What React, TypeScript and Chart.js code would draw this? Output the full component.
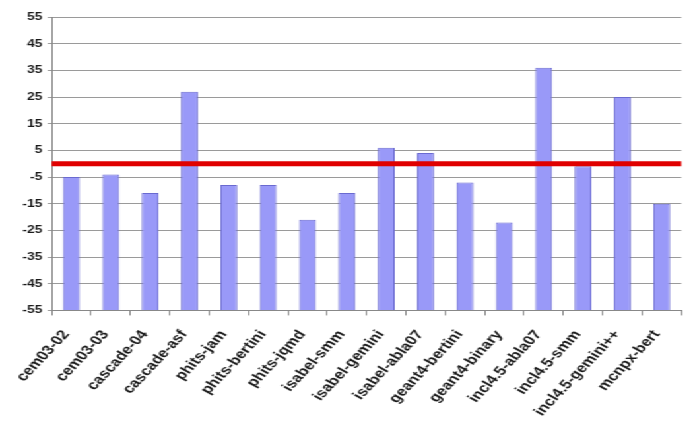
import React, { useEffect, useRef } from "react";
import { Chart, registerables } from "chart.js";

Chart.register(...registerables);

const categories = [
  "cem03-02",
  "cem03-03",
  "cascade-04",
  "cascade-asf",
  "phits-jam",
  "phits-bertini",
  "phits-jqmd",
  "isabel-smm",
  "isabel-gemini",
  "isabel-abla07",
  "geant4-bertini",
  "geant4-binary",
  "incl4.5-abla07",
  "incl4.5-smm",
  "incl4.5-gemini++",
  "mcnpx-bert",
];

const values = [-5, -4, -11, 27, -8, -8, -21, -11, 6, 4, -7, -22, 36, -1, 25, -15];

const Y_MIN = -55;
const Y_MAX = 55;
const Y_STEP = 10;
const REFERENCE_VALUE = 0;

const STRETCH = 1.32;
const W = 694;
const H = 429;

const refLinePlugin = {
  id: "refLine",
  afterDatasetsDraw(chart: any) {
    const { ctx, chartArea, scales } = chart;
    const y = scales.y.getPixelForValue(REFERENCE_VALUE);
    ctx.save();
    ctx.strokeStyle = "#e00000";
    ctx.lineWidth = 5;
    ctx.beginPath();
    ctx.moveTo(chartArea.left, y);
    ctx.lineTo(chartArea.right, y);
    ctx.stroke();
    ctx.restore();
  },
};

export default function App() {
  const ref = useRef<HTMLCanvasElement | null>(null);

  useEffect(() => {
    if (!ref.current) return;
    const chart = new Chart(ref.current, {
      type: "bar",
      data: {
        labels: categories,
        datasets: [
          {
            data: values,
            base: Y_MIN,
            backgroundColor: "#9999f8",
            borderColor: "#6a6ad0",
            borderWidth: 1,
            barPercentage: 0.43,
            categoryPercentage: 1,
          } as any,
        ],
      },
      options: {
        animation: false,
        responsive: false,
        devicePixelRatio: 1,
        layout: { padding: { left: 13, right: 3, top: 17, bottom: -2 } },
        plugins: {
          legend: { display: false },
          tooltip: { enabled: false },
        },
        scales: {
          x: {
            offset: true,
            grid: {
              offset: true,
              drawOnChartArea: false,
              drawTicks: true,
              tickLength: 5,
              color: "#888888",
            },
            border: { color: "#888888" },
            ticks: {
              autoSkip: false,
              minRotation: 54,
              maxRotation: 54,
              padding: 12,
              labelOffset: -4,
              color: "#1a1a1a",
              font: { family: "'Liberation Sans', Arial, sans-serif", size: 13, weight: "bold" },
            },
          },
          y: {
            min: Y_MIN,
            max: Y_MAX,
            grid: {
              color: "#9a9a9a",
              tickLength: 3,
              drawTicks: true,
            },
            border: { color: "#888888" },
            ticks: {
              stepSize: Y_STEP,
              padding: 4,
              color: "#1a1a1a",
              font: { family: "'Liberation Sans', Arial, sans-serif", size: 10.5, weight: "bold" },
            },
          },
        },
      },
      plugins: [refLinePlugin],
    });
    return () => chart.destroy();
  }, []);

  const innerW = Math.round(W / STRETCH);

  return (
    <div
      style={{
        position: "fixed",
        left: 0,
        top: 0,
        width: innerW,
        height: H,
        transform: `scaleX(${STRETCH})`,
        transformOrigin: "0 0",
        background: "#ffffff",
      }}
    >
      <canvas ref={ref} width={innerW} height={H} style={{ display: "block" }} />
    </div>
  );
}
